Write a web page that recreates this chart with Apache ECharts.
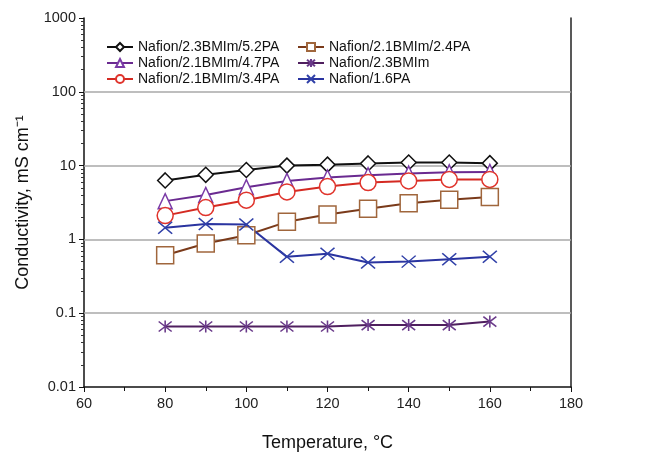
<!DOCTYPE html>
<html>
<head>
<meta charset="utf-8">
<script src="https://cdn.jsdelivr.net/npm/echarts@6/dist/echarts.min.js"></script>
<style>
  html, body { margin: 0; padding: 0; background: #fff; }
  #chart { width: 670px; height: 454px; }
</style>
</head>
<body>
<div id="chart"></div>
<script>
// temperatures, °C
const temps = [80, 90, 100, 110, 120, 130, 140, 150, 160];

// conductivity, mS/cm
const bmim23pa52 = [6.3, 7.5, 8.7, 10.0, 10.3, 10.7, 11.0, 11.0, 10.8];
const bmim21pa47 = [3.3, 4.0, 5.1, 6.2, 6.9, 7.4, 7.8, 8.1, 8.2];
const bmim21pa34 = [2.1, 2.7, 3.4, 4.4, 5.2, 5.9, 6.2, 6.5, 6.5];
const bmim21pa24 = [0.61, 0.88, 1.14, 1.73, 2.17, 2.6, 3.1, 3.45, 3.75];
const bmim23 = [0.066, 0.066, 0.066, 0.066, 0.066, 0.069, 0.069, 0.069, 0.077];
const pa16 = [1.44, 1.62, 1.59, 0.58, 0.64, 0.485, 0.50, 0.54, 0.58];

const gridValues = [0.1, 1, 10, 100];
const yTicks = [0.01, 0.1, 1, 10, 100, 1000];

const font = 'Liberation Sans, Arial, sans-serif';

const crossPath = 'path://M0,0 L10,10 M10,0 L0,10';
const starPath = 'path://M0,0 L10,10 M10,0 L0,10 M5,-1 L5,11';

const pairs = (vals) => temps.map((t, i) => [t, vals[i]]);

function mkSeries(name, vals, color, lineColor, symbol, size, fill) {
  return {
    name: name,
    type: 'line',
    data: pairs(vals),
    symbol: symbol,
    symbolSize: size,
    showAllSymbol: true,
    lineStyle: { color: lineColor, width: 2 },
    itemStyle: { color: fill, borderColor: color, borderWidth: 1.5 },
    z: 3
  };
}

const series = [
  mkSeries('Nafion/2.3BMIm/5.2PA', bmim23pa52, '#111', '#111', 'diamond', [15, 15], '#fff'),
  mkSeries('Nafion/2.1BMIm/4.7PA', bmim21pa47, '#7a3aa6', '#6a2a90', 'triangle', [14, 15], '#fff'),
  mkSeries('Nafion/2.1BMIm/3.4PA', bmim21pa34, '#e0342c', '#d42a22', 'circle', 16, '#fff'),
  mkSeries('Nafion/2.1BMIm/2.4PA', bmim21pa24, '#a0663c', '#7a3a1a', 'rect', 17, '#fff'),
  mkSeries('Nafion/2.3BMIm', bmim23, '#6a3a8a', '#4f1f5f', starPath, [13, 12], 'none'),
  mkSeries('Nafion/1.6PA', pa16, '#3040a8', '#2a34a0', crossPath, [14, 12], 'none')
];

// horizontal gridlines at each decade inside the plot
series[0].markLine = {
  silent: true,
  symbol: 'none',
  label: { show: false },
  lineStyle: { color: '#a8a8a8', width: 1.5, type: 'solid' },
  data: gridValues.map(v => ({ yAxis: v })),
  z: 1
};

const legendText = { fontFamily: font, fontSize: 14, color: '#111' };

const option = {
  animation: false,
  backgroundColor: '#fff',
  grid: { left: 84, right: 99, top: 18, bottom: 67, outerBoundsMode: 'none' },
  legend: [
    {
      orient: 'vertical', left: 101, top: 35, itemGap: 2,
      itemWidth: 26, itemHeight: 10, textStyle: legendText,
      data: series.slice(0, 3).map(s => s.name)
    },
    {
      orient: 'vertical', left: 292, top: 35, itemGap: 2,
      itemWidth: 26, itemHeight: 10, textStyle: legendText,
      data: series.slice(3).map(s => s.name)
    }
  ],
  xAxis: {
    type: 'value',
    min: 60, max: 180, interval: 20,
    name: 'Temperature, °C',
    nameLocation: 'middle',
    nameGap: 47,
    nameTextStyle: { fontFamily: font, fontSize: 18, color: '#111' },
    axisLine: { lineStyle: { color: '#111', width: 1.5 } },
    axisTick: { show: true, length: 5, lineStyle: { color: '#111' } },
    minorTick: { show: true, splitNumber: 2, length: 4, lineStyle: { color: '#111' } },
    axisLabel: { fontFamily: font, fontSize: 14.5, color: '#222', margin: 9 },
    splitLine: { show: false }
  },
  yAxis: [
    {
      type: 'log', logBase: 10,
      min: yTicks[0], max: yTicks[yTicks.length - 1],
      name: 'Conductivity, mS cm⁻¹',
      nameLocation: 'middle',
      nameGap: 52,
      nameTextStyle: { fontFamily: font, fontSize: 18, color: '#111' },
      axisLine: { show: true, lineStyle: { color: '#111', width: 1.5 } },
      axisTick: { show: true, length: 5, lineStyle: { color: '#111' } },
      minorTick: { show: true, splitNumber: 9, length: 3, lineStyle: { color: '#333' } },
      axisLabel: {
        fontFamily: font, fontSize: 14.5, color: '#222', margin: 8,
        formatter: v => String(+v.toPrecision(3))
      },
      splitLine: { show: false }
    },
    {
      type: 'log', logBase: 10,
      min: yTicks[0], max: yTicks[yTicks.length - 1],
      position: 'right',
      axisLine: { show: true, lineStyle: { color: '#222', width: 1.5 } },
      axisTick: { show: false },
      axisLabel: { show: false },
      splitLine: { show: false }
    }
  ],
  series: series
};

const myChart = echarts.init(document.getElementById('chart'));
myChart.setOption(option);
</script>
</body>
</html>
